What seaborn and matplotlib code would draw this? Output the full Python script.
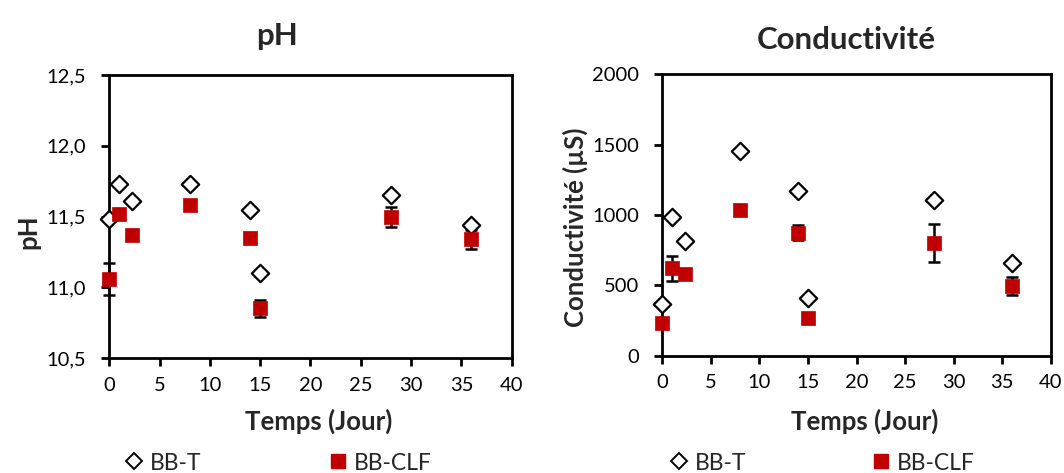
import numpy as np
import pandas as pd
import matplotlib
matplotlib.use("Agg")
import matplotlib.pyplot as plt
import seaborn as sns
from matplotlib.lines import Line2D
from matplotlib.ticker import FuncFormatter

# ---- data ----
days = [0, 1, 2.3, 8, 14, 15, 28, 36]
ph_bbt = [11.48, 11.73, 11.61, 11.73, 11.55, 11.10, 11.65, 11.44]
ph_clf = [11.06, 11.52, 11.37, 11.58, 11.35, 10.855, 11.50, 11.34]
ph_clf_err = [0.11, 0.03, 0.0, 0.02, 0.02, 0.06, 0.07, 0.065]
cond_bbt = [365, 988, 817, 1457, 1171, 412, 1107, 661]
cond_clf = [230, 621, 581, 1036, 874, 270, 799, 495]
cond_clf_err = [0, 90, 0, 25, 55, 0, 134, 65]
series_names = ["BB-T", "BB-CLF"]
x_ticks = [0, 5, 10, 15, 20, 25, 30, 35, 40]
ph_ticks = [10.5, 11.0, 11.5, 12.0, 12.5]
cond_ticks = [0, 500, 1000, 1500, 2000]

sns.set_theme(style="white")
FONT = ["Lato", "DejaVu Sans"]
plt.rcParams["font.family"] = FONT

RED = "#C00000"
fig = plt.figure(figsize=(10.64, 4.73), dpi=100)
ax1 = fig.add_axes([0.1027, 0.2425, 0.3782, 0.5989])
ax2 = fig.add_axes([0.6225, 0.2484, 0.3650, 0.5945])


def draw(ax, yt, yc, err, yticks, fmt):
    dft = pd.DataFrame({"x": days, "y": yt})
    dfc = pd.DataFrame({"x": days, "y": yc})
    ax.errorbar(days, yc, yerr=err, fmt="none", ecolor="black",
                elinewidth=1.8, capsize=4.5, capthick=1.8, zorder=2, clip_on=False)
    sns.scatterplot(data=dft, x="x", y="y", marker="D", s=78, color="white",
                    edgecolor="black", linewidth=1.6, ax=ax, zorder=3, clip_on=False)
    sns.scatterplot(data=dfc, x="x", y="y", marker="s", s=105, color=RED,
                    edgecolor=RED, linewidth=0.5, ax=ax, zorder=4, clip_on=False)
    ax.set_xlim(0, 40)
    ax.set_ylim(yticks[0], yticks[-1])
    ax.set_xticks(x_ticks)
    ax.set_yticks(yticks)
    ax.yaxis.set_major_formatter(FuncFormatter(fmt))
    ax.set_xlabel("")
    ax.set_ylabel("")
    for sp in ax.spines.values():
        sp.set_visible(True)
        sp.set_color("black")
        sp.set_linewidth(2.0)
    ax.tick_params(axis="both", which="major", direction="out", length=5.5,
                   width=2.0, color="black", labelsize=14.5, labelcolor="black",
                   bottom=True, left=True, top=False, right=False)
    ax.tick_params(axis="x", pad=8)
    ax.tick_params(axis="y", pad=11)
    ax.legend_ = None


draw(ax1, ph_bbt, ph_clf, ph_clf_err, ph_ticks,
     lambda v, p: f"{v:.1f}".replace(".", ","))
draw(ax2, cond_bbt, cond_clf, cond_clf_err, cond_ticks,
     lambda v, p: f"{int(v)}")

# titles
fig.text(276.5 / 1064, 1 - 36 / 473, "pH", ha="center", va="center", fontsize=22.5, fontweight="bold")
fig.text(846 / 1064, 1 - 40 / 473, "Conductivité", ha="center", va="center", fontsize=22.5, fontweight="bold")
# y labels
fig.text(28.6 / 1064, 1 - 232 / 473, "pH", ha="center", va="center", rotation=90,
         fontsize=18.5, fontweight="bold")
fig.text(575 / 1064, 1 - 227 / 473, "Conductivité (µS)", ha="center", va="center", rotation=90,
         fontsize=18.5, fontweight="bold")
# x labels
fig.text(318.5 / 1064, 1 - 421 / 473, "Temps (Jour)", ha="center", va="center", fontsize=18.5, fontweight="bold")
fig.text(865 / 1064, 1 - 421 / 473, "Temps (Jour)", ha="center", va="center", fontsize=18.5, fontweight="bold")

# legends
h_t = Line2D([], [], marker="D", linestyle="none", markersize=8.5, markerfacecolor="white",
             markeredgecolor="black", markeredgewidth=1.4)
h_c = Line2D([], [], marker="s", linestyle="none", markersize=10.5, markerfacecolor=RED,
             markeredgecolor=RED)
positions = [(124, h_t, series_names[0]), (328, h_c, series_names[1]),
             (669, h_t, series_names[0]), (871, h_c, series_names[1])]
for px, h, lab in positions:
    fig.legend(handles=[h], labels=[lab], loc="center left",
               bbox_to_anchor=(px / 1064, 1 - 463 / 473), frameon=False,
               fontsize=16.5, handlelength=0.9, handletextpad=0.25, borderpad=0,
               borderaxespad=0)

fig.savefig("out.png", dpi=100)
